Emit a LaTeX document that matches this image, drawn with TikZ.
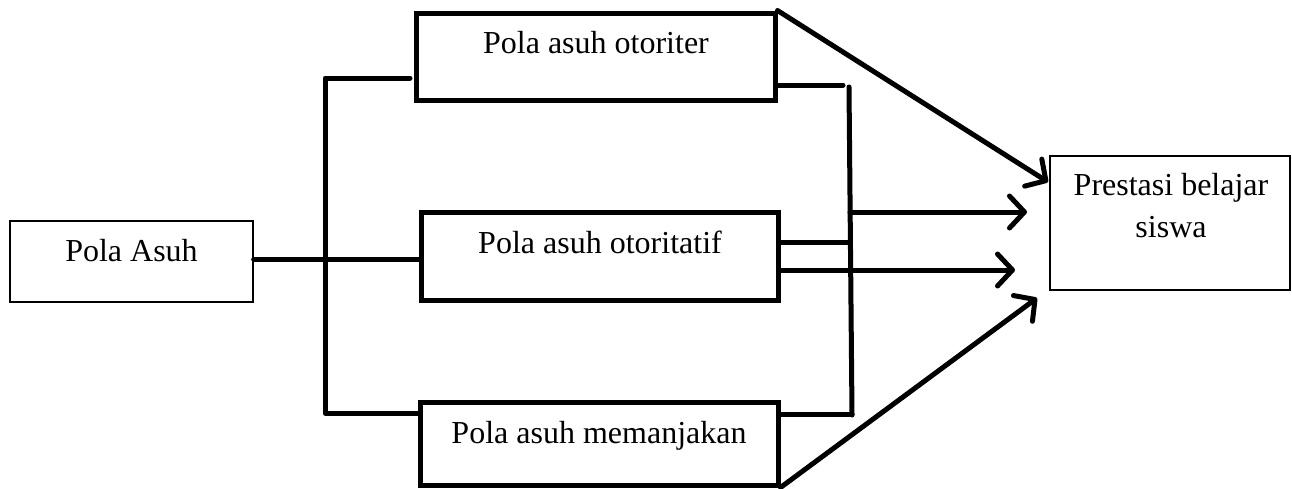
\documentclass[tikz,border=0pt]{standalone}
\usepackage{fontspec}
\setmainfont{Liberation Serif}
\usetikzlibrary{arrows.meta}
\begin{document}
\begin{tikzpicture}[x=1pt,y=-1pt,
  thinbox/.style={draw=black, line width=1.3pt, inner sep=0pt},
  thickbox/.style={draw=black, line width=5pt, inner sep=0pt},
  lbl/.style={font=\fontsize{32}{38}\selectfont, anchor=base, inner sep=0pt},
  conn/.style={line width=5pt, line cap=round, line join=round},
  arr/.style={conn, -{Straight Barb[length=15pt, width=32pt, line width=5pt, line cap=round, line join=round]}}
]
\useasboundingbox (0,0) rectangle (1292,488);
% boxes
\node[thinbox, minimum width=243pt, minimum height=81pt] (pa) at (131.5,261.5) {};
\node[lbl] at (131.5,261) {Pola Asuh};
\node[thickbox, minimum width=359pt, minimum height=87pt] (b1) at (595.5,56.5) {};
\node[lbl] at (596,53) {Pola asuh otoriter};
\node[thickbox, minimum width=357pt, minimum height=88pt] (b2) at (599.5,256) {};
\node[lbl] at (600,253) {Pola asuh otoritatif};
\node[thickbox, minimum width=358pt, minimum height=83pt] (b3) at (599,443.5) {};
\node[lbl] at (599,443) {Pola asuh memanjakan};
\node[thinbox, minimum width=240pt, minimum height=134pt] (ps) at (1170,223) {};
\node[lbl] at (1171,195) {Prestasi belajar};
\node[lbl] at (1171,237) {siswa};
% coordinates
\coordinate (lt) at (410,78);
\coordinate (lc) at (325,78);
\coordinate (lb) at (325,413);
\coordinate (rt) at (843,85);
\coordinate (rvt) at (849,87);
\coordinate (rvb) at (852,415);
\coordinate (rm) at (850,212);
\coordinate (rb2) at (850,242);
\coordinate (a1) at (1048,182);
\coordinate (a2) at (1027,212);
\coordinate (a3) at (1015,270);
\coordinate (a4) at (1037,298);
% left connectors
\draw[conn] (pa.east |- 0,259) -- (b2.west |- 0,259);
\draw[conn] (lt) -- (lc) -- (lb) -- (b3.west |- lb);
% right connectors
\draw[conn] (b1.east |- rt) -- (rt);
\draw[conn] (rvt) -- (rvb);
\draw[conn] (b3.east |- 0,414) -- (rvb |- 0,414);
\draw[conn] (b2.east |- rb2) -- (rb2);
\draw[arr] (rm) -- (a2);
\draw[arr] (b2.east |- a3) -- (a3);
\draw[arr] (b1.north east) -- (a1);
\draw[arr] (b3.south east) -- (a4);
\end{tikzpicture}
\end{document}
